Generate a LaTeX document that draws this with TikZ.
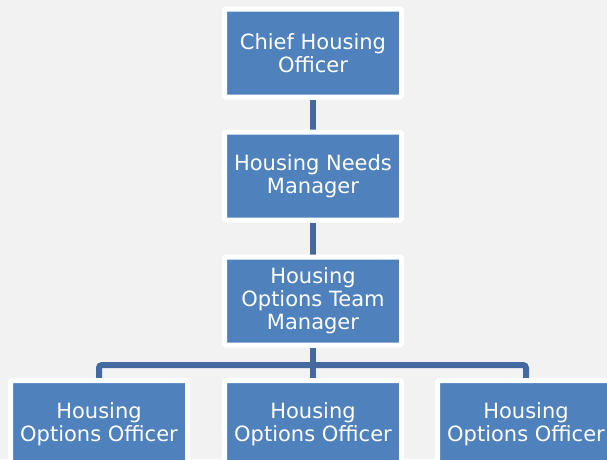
\documentclass[tikz,border=0pt]{standalone}
\usepackage{fontspec}
\setmainfont{DejaVu Sans}
\usetikzlibrary{backgrounds}
\definecolor{bg}{HTML}{F2F2F2}
\definecolor{boxblue}{HTML}{4F81BD}
\definecolor{linkblue}{HTML}{44699F}
\tikzset{
  orgbox/.style={rectangle, fill=boxblue, draw=white, line width=5pt, rounded corners=1.5pt,
    minimum width=177pt, minimum height=88pt, text=white, align=center, inner sep=0pt,
    font=\fontsize{21}{23}\selectfont},
  link/.style={draw=linkblue, line width=6pt},
}
\begin{document}
\begin{tikzpicture}[x=1pt,y=-1pt]
\useasboundingbox (0,0) rectangle (607,459);
\node[orgbox] (chief) at (313,53) {Chief Housing\\Officer};
\node[orgbox] (needs) at (313,176) {Housing Needs\\Manager};
\node[orgbox] (team) at (313,301) {Housing\\Options Team\\Manager};
\node[orgbox] (o1) at (99,424.5) {Housing\\Options Officer};
\node[orgbox] (o2) at (313,424.5) {Housing\\Options Officer};
\node[orgbox] (o3) at (526,424.5) {Housing\\Options Officer};
\coordinate (bus) at (313,365);
\begin{scope}[on background layer]
\fill[bg] (0,0) rectangle (607,459);
\draw[link] (chief.south) -- (needs.north);
\draw[link] (needs.south) -- (team.north);
\draw[link] (team.south) -- (o2.north);
\draw[link, rounded corners=3pt] (o1.north) -- (o1.north |- bus) -- (o3.north |- bus) -- (o3.north);
\end{scope}
\end{tikzpicture}
\end{document}
